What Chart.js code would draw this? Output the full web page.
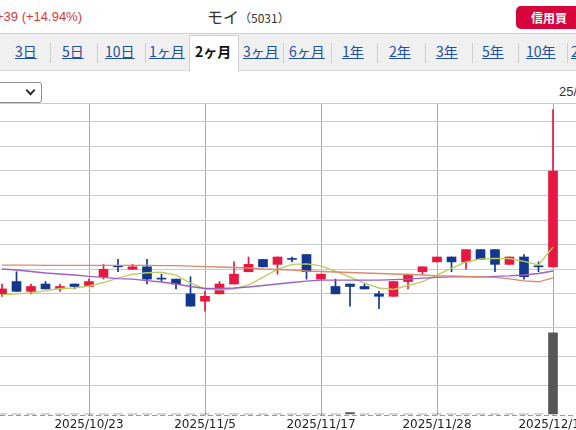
<!DOCTYPE html>
<html>
<head>
<meta charset="utf-8">
<script src="https://cdn.jsdelivr.net/npm/chart.js@4.4.1/dist/chart.umd.min.js"></script>
<style>
  html, body { margin: 0; padding: 0; }
  body { width: 576px; height: 430px; overflow: hidden; position: relative; background: #fff; font-family: "Liberation Sans", Arial, sans-serif; }
  #head { position: absolute; left: 0; top: 0; width: 576px; height: 33px; border-bottom: 1px solid #d0d0d0; }
  #change { position: absolute; left: -4px; top: 9px; font-size: 13px; color: #d9383c; white-space: nowrap; }
  #name { position: absolute; left: 207px; top: 4px; font-family: "Noto Sans CJK JP"; font-size: 16px; color: #333; white-space: nowrap; }
  #name span { font-size: 12px; }
  #btn { position: absolute; left: 516px; top: 6px; width: 72px; height: 23px; border-radius: 5px; background: #d7043c; color: #fff; font-family: "Noto Sans CJK JP"; font-weight: bold; font-size: 12px; line-height: 23px; padding-left: 15px; box-sizing: border-box; }
  #tabs { position: absolute; left: 0; top: 34px; width: 576px; height: 36px; background: #f0f0f0; border-bottom: 1px solid #dcdcdc; }
  #tabs .t { position: absolute; top: 7px; font-family: "Noto Sans CJK JP"; font-size: 14px; color: #1f4f9f; text-decoration: underline; white-space: nowrap; }
  #tabs .on { color: #111; font-weight: bold; text-decoration: none; }
  #tabs .sep { position: absolute; top: 9px; width: 1px; height: 20px; background: #cfcfcf; }
  #active { position: absolute; left: 189px; top: 1px; width: 48px; height: 36px; background: #fff; border: 1px solid #d0d0d0; border-bottom: none; }
  #sel { position: absolute; left: -6px; top: 82px; width: 46px; height: 19px; border: 1px solid #8c8c8c; border-radius: 3px; background: #fff; }
  #sel i { position: absolute; left: 32px; top: 4px; width: 5px; height: 5px; border-right: 2px solid #333; border-bottom: 2px solid #333; transform: rotate(45deg); }
  #day { position: absolute; left: 559px; top: 84px; font-size: 13px; color: #333; white-space: nowrap; }
  canvas { position: absolute; left: 0; }
  #price { top: 103px; }
  #volume { top: 327px; }
</style>
</head>
<body>
<div id="head">
  <div id="change">+39 (+14.94%)</div>
  <div id="name">モイ<span>（5031）</span></div>
  <div id="btn">信用買</div>
</div>
<div id="tabs">
  <div id="active"></div>
  <span class="t" style="left:15px">3日</span>
  <i class="sep" style="left:50px"></i>
  <span class="t" style="left:62px">5日</span>
  <i class="sep" style="left:97px"></i>
  <span class="t" style="left:105px">10日</span>
  <i class="sep" style="left:145px"></i>
  <span class="t" style="left:149px">1ヶ月</span>
  <span class="t on" style="left:195px">2ヶ月</span>
  <span class="t" style="left:243px">3ヶ月</span>
  <i class="sep" style="left:283px"></i>
  <span class="t" style="left:289px">6ヶ月</span>
  <i class="sep" style="left:331px"></i>
  <span class="t" style="left:342px">1年</span>
  <i class="sep" style="left:377px"></i>
  <span class="t" style="left:389px">2年</span>
  <i class="sep" style="left:425px"></i>
  <span class="t" style="left:436px">3年</span>
  <i class="sep" style="left:472px"></i>
  <span class="t" style="left:482px">5年</span>
  <i class="sep" style="left:518px"></i>
  <span class="t" style="left:526px">10年</span>
  <i class="sep" style="left:567px"></i>
  <span class="t" style="left:571px">20年</span>
</div>
<div id="sel"><i></i></div>
<div id="day">25/12/10</div>

<canvas id="price" width="620" height="224"></canvas>
<canvas id="volume" width="620" height="108"></canvas>

<script>
// trading days shown in the 2-month view
const dates = [
  "2025/10/15", "2025/10/16", "2025/10/17", "2025/10/20", "2025/10/21", "2025/10/22",
  "2025/10/23", "2025/10/24", "2025/10/27", "2025/10/28", "2025/10/29", "2025/10/30",
  "2025/10/31", "2025/11/4", "2025/11/5", "2025/11/6", "2025/11/7", "2025/11/10",
  "2025/11/11", "2025/11/12", "2025/11/13", "2025/11/14", "2025/11/17", "2025/11/18",
  "2025/11/19", "2025/11/20", "2025/11/21", "2025/11/25", "2025/11/26", "2025/11/27",
  "2025/11/28", "2025/12/1", "2025/12/2", "2025/12/3", "2025/12/4", "2025/12/5",
  "2025/12/8", "2025/12/9", "2025/12/10"
];

const open = [250, 255, 251, 254, 252, 254, 253, 257, 261, 260, 261, 256, 256, 250, 247, 250, 254, 259, 264, 262,
  264, 266, 256, 253, 254, 253, 250, 249, 255, 259, 263, 265, 263, 268, 268, 262, 265, 261, 261];
const high = [254, 259, 254, 255, 254, 254, 256, 262, 264, 262, 264, 258, 256, 257, 251, 255, 263, 265, 264, 265,
  265, 266, 258, 256, 254, 254, 251, 255, 258, 261, 265, 265, 268, 268, 268, 265, 266, 263, 325];
const low = [249, 251, 250, 252, 251, 252, 253, 256, 259, 260, 254, 255, 252, 245, 243, 250, 254, 259, 261, 258,
  263, 256, 256, 250, 245, 252, 244, 249, 252, 258, 263, 259, 260, 264, 259, 262, 256, 259, 261];
const close = [252, 251, 253, 252, 253, 253, 255, 260, 261, 261, 256, 256, 254, 245, 249, 254, 258, 262, 261, 265,
  264, 259, 258, 250, 253, 252, 249, 255, 258, 261, 265, 263, 268, 264, 262, 265, 257, 261, 300];

// moving averages (5 / 25 / 75 days)
const ma5 = [249.6, 250.0, 250.4, 251.2, 252.2, 252.4, 253.2, 254.6, 256.4, 258.0, 258.6, 258.8, 257.6, 254.4,
  252.0, 251.6, 252.0, 253.6, 256.8, 260.0, 262.0, 262.2, 261.4, 259.2, 256.8, 254.4, 252.4, 251.8, 253.4,
  255.0, 257.6, 260.4, 263.0, 264.2, 264.4, 264.4, 263.2, 261.8, 269.0];
const ma25 = [260.1, 259.7, 259.1, 258.5, 258.1, 257.7, 257.1, 256.7, 256.2, 256.0, 255.4, 254.8, 254.0, 253.0,
  252.2, 252.2, 252.4, 252.8, 253.4, 254.0, 254.6, 255.2, 255.6, 255.6, 255.6, 255.6, 255.6, 255.8, 256.0,
  256.4, 256.7, 256.9, 256.9, 256.9, 257.1, 257.3, 257.7, 258.3, 259.3];
const ma75 = [261.7, 261.7, 261.7, 261.6, 261.6, 261.6, 261.6, 261.6, 261.6, 261.6, 261.6, 261.5, 261.5, 261.3,
  261.1, 260.9, 260.7, 260.5, 260.1, 259.9, 259.7, 259.3, 259.1, 258.9, 258.7, 258.5, 258.3, 258.1, 257.9,
  257.7, 257.3, 257.3, 257.1, 256.9, 256.7, 256.1, 255.3, 254.9, 256.5];

const volume = [0.2, 0.2, 0.2, 0.2, 0.2, 0.2, 0.2, 0.2, 0.2, 0.2, 0.2, 0.2, 0.2, 0.2, 0.2, 0.2, 0.2, 0.2, 0.2, 0.2,
  0.2, 0.2, 0.2, 0.2, 0.7, 0.2, 0.2, 0.2, 0.2, 0.2, 0.2, 0.2, 0.2, 0.2, 0.2, 0.2, 0.2, 0.2, 28];

const priceTicks = [250, 260, 270, 280, 290, 300, 310, 320];
const dateTicks = [6, 14, 22, 30, 38];

const UP = "#e8173f";
const DOWN = "#13378c";

// view window: the chart is cropped on the left, 14.5px per day
const xMin = -2 / 14.5;
const xMax = xMin + 620 / 14.5;
const yMax = 300 + 68 / 2.457;
const yMin = yMax - 224 / 2.457;

const idx = dates.map((d, i) => i);
const candleColor = (ctx) => (close[ctx.dataIndex] > open[ctx.dataIndex] ? UP : DOWN);

function maLine(label, values, color) {
  return {
    type: "line",
    label: label,
    data: idx.map((i) => ({ x: i, y: values[i] })),
    borderColor: color,
    borderWidth: 1.4,
    pointRadius: 0,
    tension: 0,
    order: 0,
  };
}

const hiddenTicks = { display: false };

new Chart(document.getElementById("price"), {
  type: "bar",
  data: {
    datasets: [
      maLine("75日", ma75, "#dc8a6c"),
      maLine("25日", ma25, "#9c5fcb"),
      maLine("5日", ma5, "#bccf5e"),
      {
        label: "body",
        data: idx.map((i) => ({ x: i, y: [open[i], close[i]] })),
        backgroundColor: candleColor,
        barThickness: 9,
        minBarLength: 1,
        grouped: false,
        order: 1,
      },
      {
        label: "wick",
        data: idx.map((i) => ({ x: i, y: [low[i], high[i]] })),
        backgroundColor: candleColor,
        barThickness: 1,
        grouped: false,
        order: 2,
      },
    ],
  },
  options: {
    responsive: false,
    animation: false,
    layout: { padding: 0 },
    plugins: { legend: { display: false }, tooltip: { enabled: false } },
    scales: {
      x: {
        type: "linear",
        min: xMin,
        max: xMax,
        offset: false,
        grid: { color: "#a9a9a9", drawTicks: false, offset: false },
        border: { display: false },
        ticks: hiddenTicks,
        afterBuildTicks: (s) => { s.ticks = dateTicks.map((v) => ({ value: v })); },
      },
      y: {
        min: yMin,
        max: yMax,
        grid: { color: "#cacaca", drawTicks: false },
        border: { display: false },
        ticks: hiddenTicks,
        afterBuildTicks: (s) => { s.ticks = priceTicks.concat([yMax]).map((v) => ({ value: v })); },
      },
    },
  },
});

// dashed line under the volume bars
const dashedBase = {
  id: "dashedBase",
  afterDatasetsDraw(chart) {
    const { ctx, chartArea } = chart;
    ctx.save();
    ctx.strokeStyle = "#9a9a9a";
    ctx.lineWidth = 1;
    ctx.setLineDash([5, 3]);
    ctx.beginPath();
    ctx.moveTo(chartArea.left, Math.round(chartArea.bottom) + 0.5);
    ctx.lineTo(chartArea.right, Math.round(chartArea.bottom) + 0.5);
    ctx.stroke();
    ctx.restore();
  },
};

new Chart(document.getElementById("volume"), {
  type: "bar",
  data: {
    datasets: [
      {
        label: "出来高",
        data: idx.map((i) => ({ x: i, y: volume[i] })),
        backgroundColor: "#575757",
        barThickness: 9,
      },
    ],
  },
  options: {
    responsive: false,
    animation: false,
    layout: { padding: 0 },
    plugins: { legend: { display: false }, tooltip: { enabled: false } },
    scales: {
      x: {
        type: "linear",
        min: xMin,
        max: xMax,
        offset: false,
        grid: { color: "#a9a9a9", drawTicks: false, offset: false },
        border: { display: false },
        ticks: {
          color: "#222",
          font: { family: "DejaVu Sans", size: 12 },
          padding: 3,
          maxRotation: 0,
          autoSkip: false,
          callback: (v) => dates[v],
        },
        afterBuildTicks: (s) => { s.ticks = dateTicks.map((v) => ({ value: v })); },
      },
      y: {
        min: 0,
        max: 30,
        grid: {
          color: (c) => (c.tick && c.tick.value === 0 ? "rgba(0,0,0,0)" : "#cacaca"),
          drawTicks: false,
        },
        border: { display: false },
        ticks: { display: false, stepSize: 10 },
      },
    },
  },
  plugins: [dashedBase],
});
</script>
</body>
</html>
